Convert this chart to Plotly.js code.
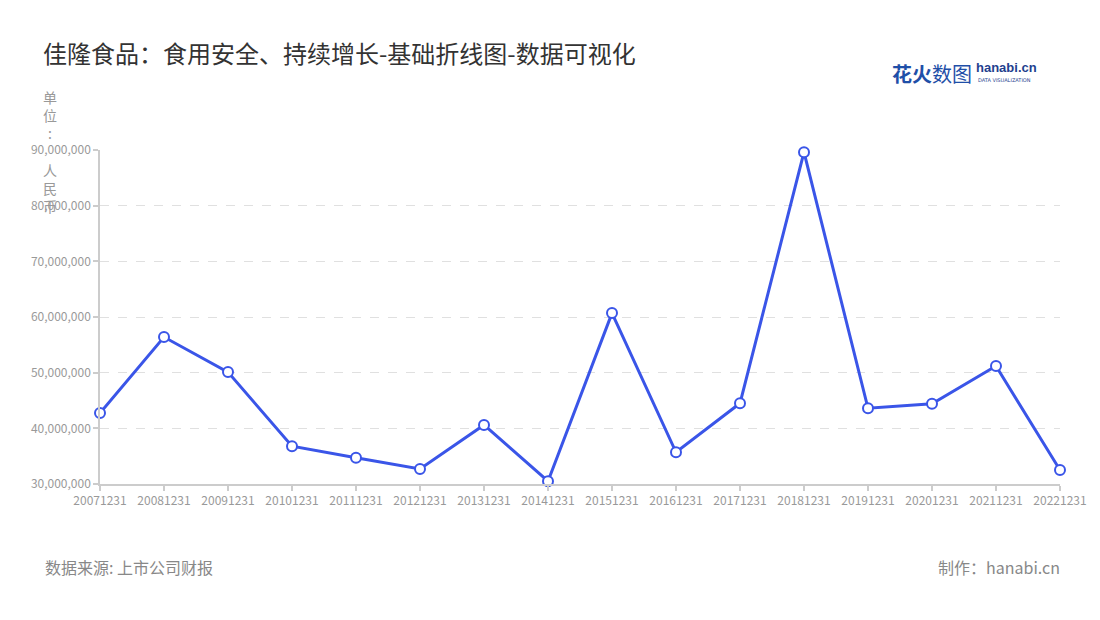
<!DOCTYPE html>
<html><head><meta charset="utf-8">
<script src="https://cdn.plot.ly/plotly-3.0.1.min.js"></script>
<style>body{margin:0;background:#fff}#c{width:1100px;height:620px}</style>
</head><body><div id="c"></div>
<script>
const categories = ["20071231","20081231","20091231","20101231","20111231","20121231","20131231","20141231","20151231","20161231","20171231","20181231","20191231","20201231","20211231","20221231"];
const values = [42750000,56400000,50100000,36800000,34700000,32700000,40600000,30500000,60700000,35700000,44500000,89600000,43600000,44400000,51200000,32500000];
const yTicks = [30000000,40000000,50000000,60000000,70000000,80000000,90000000];
const titleText = "佳隆食品：食用安全、持续增长-基础折线图-数据可视化";
const unitText = "单<br>位<br>:<br>&nbsp;<br>人<br>民<br>币";
const sourceText = "数据来源: 上市公司财报";
const makerText = "制作：hanabi.cn";

const font = '"Noto Sans CJK SC","Noto Sans",sans-serif';
const trace = {
  x: categories, y: values, type: 'scatter', mode: 'lines+markers',
  cliponaxis: false,
  line: {color: '#3a55e8', width: 3},
  marker: {size: 10, color: '#ffffff', line: {color: '#3a55e8', width: 2}},
  hoverinfo: 'x+y'
};
const layout = {
  width: 1100, height: 620,
  paper_bgcolor: '#fff', plot_bgcolor: '#fff',
  margin: {l: 100, r: 40, t: 150, b: 136},
  showlegend: false,
  font: {family: font, color: '#999'},
  title: {text: titleText, x: 43/1100, xanchor: 'left', y: 1-55/620, yanchor: 'middle',
          font: {family: font, size: 24, color: '#333'}},
  xaxis: {type: 'category', range: [0, categories.length-1], showgrid: false,
          showline: true, linecolor: '#ccc', linewidth: 1.5,
          ticks: 'outside', ticklen: 5, tickcolor: '#ccc', tickwidth: 1.5,
          tickfont: {size: 12, color: '#999'}, fixedrange: true},
  yaxis: {range: [30000000, 90000000], tickvals: yTicks, tickformat: ',d',
          showgrid: true, gridcolor: '#e0e0e0', griddash: 'dash', gridwidth: 1,
          showline: true, linecolor: '#ccc', linewidth: 1.5,
          ticks: 'outside', ticklen: 5, tickcolor: '#ccc', tickwidth: 1.5,
          tickfont: {size: 12, color: '#999'}, zeroline: false, fixedrange: true},
  annotations: [
    {text: unitText, xref: 'paper', yref: 'paper', x: (50-100)/960, y: 1+(150-85)/334,
     xanchor: 'center', yanchor: 'top', showarrow: false, align: 'center',
     font: {size: 14, color: '#999', family: font}},
    {text: sourceText, xref: 'paper', yref: 'paper', x: (43-100)/960, y: -(567-484)/334,
     xanchor: 'left', yanchor: 'middle', showarrow: false,
     font: {size: 16, color: '#888', family: font}},
    {text: makerText, xref: 'paper', yref: 'paper', x: (1062-100)/960, y: -(567-484)/334,
     xanchor: 'right', yanchor: 'middle', showarrow: false,
     font: {size: 16, color: '#888', family: font}},
    {text: '<b>花火</b>数图', xref: 'paper', yref: 'paper', x: (890-100)/960, y: 1+(150-73)/334,
     xanchor: 'left', yanchor: 'middle', showarrow: false,
     font: {size: 20, color: '#1f4fa8', family: font}},
    {text: '<b>hanabi.cn</b>', xref: 'paper', yref: 'paper', x: (974-100)/960, y: 1+(150-68)/334,
     xanchor: 'left', yanchor: 'middle', showarrow: false,
     font: {size: 13, color: '#1f3f8f', family: '"Liberation Sans",sans-serif'}},
    {text: 'DATA VISUALIZATION', xref: 'paper', yref: 'paper', x: (976-100)/960, y: 1+(150-80)/334,
     xanchor: 'left', yanchor: 'middle', showarrow: false,
     font: {size: 5, color: '#1f3f8f', family: '"DejaVu Sans",sans-serif'}}
  ]
};
Plotly.newPlot('c', [trace], layout, {displayModeBar: false});
</script></body></html>
